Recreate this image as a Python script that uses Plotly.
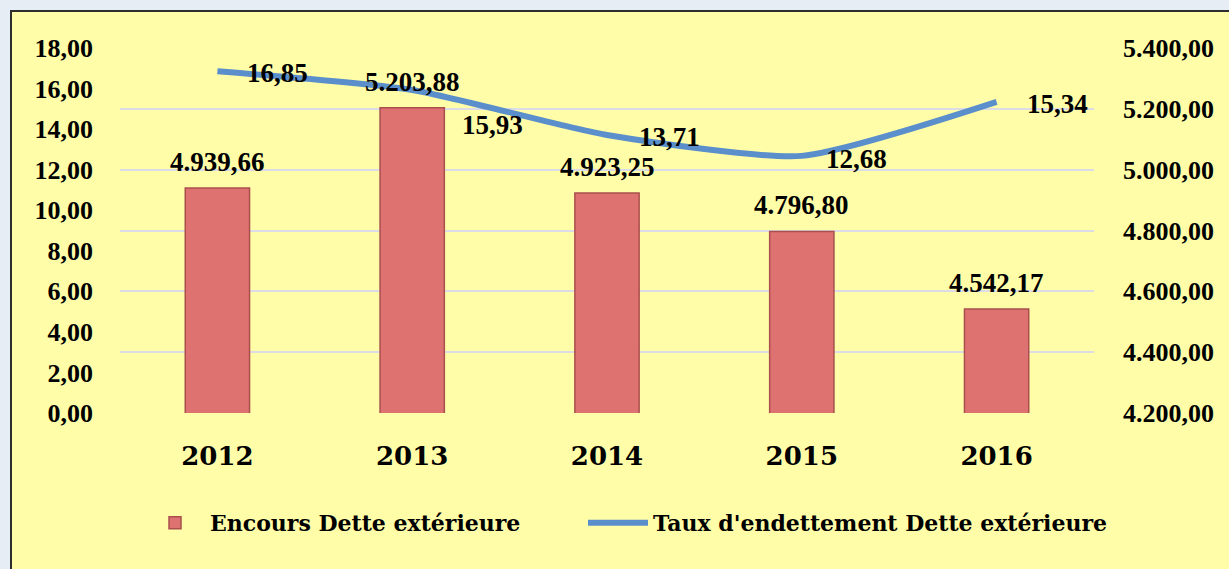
import plotly.graph_objects as go

years = ["2012", "2013", "2014", "2015", "2016"]
encours = [4939.66, 5203.88, 4923.25, 4796.80, 4542.17]
taux = [16.85, 15.93, 13.71, 12.68, 15.34]
left_ticks = [0, 2, 4, 6, 8, 10, 12, 14, 16, 18]
right_ticks = [4200, 4400, 4600, 4800, 5000, 5200, 5400]

# label offsets for the line labels (pixels)
taux_xshift = [28, 48, 30, 22, 28]
taux_yshift = [-2, -35, -2, -3, -2]

def fr(v):
    s = f"{v:,.2f}"
    return s.replace(",", "X").replace(".", ",").replace("X", ".")

FONT = "Liberation Serif"
FONT2 = "DejaVu Serif"
W, H = 1229, 569
ML, MR, MT, MB = 120, 135, 48, 156
PW, PH = W - ML - MR, H - MT - MB

fig = go.Figure()
fig.add_trace(go.Bar(
    x=years, y=encours, name="Encours Dette extérieure",
    marker=dict(color="#DE7270", line=dict(color="#A9504E", width=1.5)),
    yaxis="y", legend="legend",
))
fig.add_trace(go.Scatter(
    x=years, y=taux, name="Taux d'endettement Dette extérieure",
    mode="lines", line=dict(color="#5B8FCB", width=6, shape="spline", smoothing=0.6),
    yaxis="y2", legend="legend2",
))

annotations = []
for i, v in enumerate(encours):
    annotations.append(dict(x=i, y=v, xref="x", yref="y", text=fr(v), showarrow=False,
                            yanchor="bottom", yshift=9,
                            font=dict(family=FONT, size=27, color="black", weight="bold")))
for i, (v, dx, dy) in enumerate(zip(taux, taux_xshift, taux_yshift)):
    annotations.append(dict(x=i, y=v, xref="x", yref="y2", text=fr(v), showarrow=False,
                            xanchor="left", yanchor="middle", xshift=dx, yshift=dy,
                            font=dict(family=FONT, size=27, color="black", weight="bold")))

legend_common = dict(orientation="h", yanchor="middle", y=(413 - 523) / PH, xanchor="left",
                     font=dict(family=FONT2, size=22, color="black", weight="bold"),
                     bgcolor="rgba(0,0,0,0)", itemwidth=60)

fig.update_layout(
    width=W, height=H,
    margin=dict(l=ML, r=MR, t=MT, b=MB, autoexpand=False),
    paper_bgcolor="#E6EDF4",
    plot_bgcolor="rgba(0,0,0,0)",
    separators=",.",
    bargap=0.67,
    showlegend=True,
    legend=dict(x=(140 - ML) / PW, **legend_common),
    legend2=dict(x=(583 - ML) / PW, **legend_common),
    xaxis=dict(type="category", range=[-0.5, len(years) - 0.5],
               showgrid=False, showline=False, zeroline=False, ticks="",
               tickfont=dict(family=FONT2, size=26, color="black", weight="bold"),
               ticklabelstandoff=25),
    yaxis=dict(range=[4200, 5400], tickvals=right_ticks, side="right",
               tickformat=",.2f", showgrid=True, gridcolor="#DCDCE6", gridwidth=2,
               zeroline=False, showline=False, ticks="",
               tickfont=dict(family=FONT, size=26, color="black", weight="bold"),
               ticklabelstandoff=28),
    yaxis2=dict(range=[0, 18], tickvals=left_ticks, side="left", overlaying="y",
                tickformat=".2f", showgrid=False, zeroline=False, showline=False, ticks="",
                tickfont=dict(family=FONT, size=26, color="black", weight="bold"),
                ticklabelstandoff=26),
    annotations=annotations,
    shapes=[dict(type="rect", xref="paper", yref="paper", layer="below",
                 x0=(11 - ML) / PW, x1=1.5, y0=-2, y1=1 + (MT - 11) / PH,
                 fillcolor="#FFFDA8", line=dict(color="#2E2E2E", width=2))],
)

fig.write_html("out.html", config={"displayModeBar": False},
               post_script="document.body.style.margin='0';")
